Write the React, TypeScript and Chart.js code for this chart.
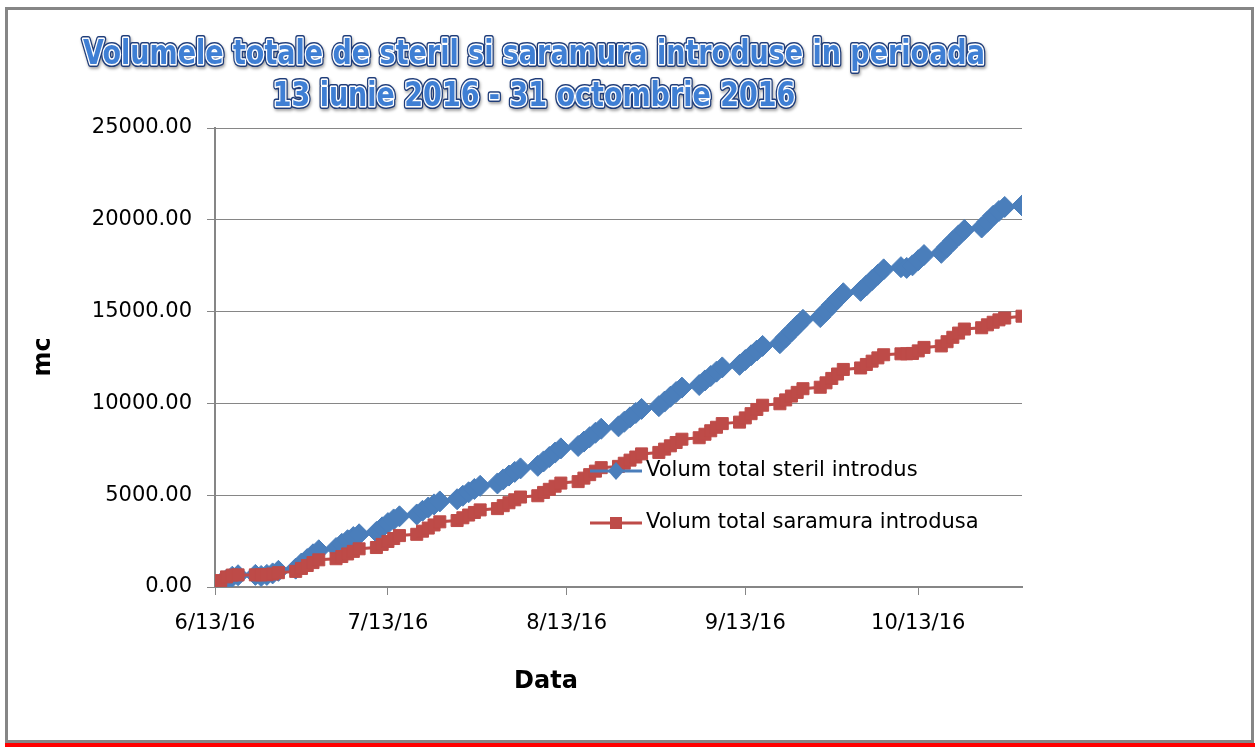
import React, { useEffect, useRef } from "react";
import { Chart, registerables } from "chart.js";

Chart.register(...registerables);

const YEAR = 2016;

const titleLines = [
  "Volumele totale de steril si saramura introduse in perioada",
  "13 iunie 2016 - 31 octombrie 2016",
];
const yAxisTitle = "mc";
const xAxisTitle = "Data";
const seriesNames = ["Volum total steril introdus", "Volum total saramura introdusa"];

// working days (month/day, 2016)
const dates = [
  "6/13", "6/14", "6/15", "6/16", "6/17",
  "6/20", "6/21", "6/22", "6/23", "6/24",
  "6/27", "6/28", "6/29", "6/30", "7/1",
  "7/4", "7/5", "7/6", "7/7", "7/8",
  "7/11", "7/12", "7/13", "7/14", "7/15",
  "7/18", "7/19", "7/20", "7/21", "7/22",
  "7/25", "7/26", "7/27", "7/28", "7/29",
  "8/1", "8/2", "8/3", "8/4", "8/5",
  "8/8", "8/9", "8/10", "8/11", "8/12",
  "8/15", "8/16", "8/17", "8/18", "8/19",
  "8/22", "8/23", "8/24", "8/25", "8/26",
  "8/29", "8/30", "8/31", "9/1", "9/2",
  "9/5", "9/6", "9/7", "9/8", "9/9",
  "9/12", "9/13", "9/14", "9/15", "9/16",
  "9/19", "9/20", "9/21", "9/22", "9/23",
  "9/26", "9/27", "9/28", "9/29", "9/30",
  "10/3", "10/4", "10/5", "10/6", "10/7",
  "10/10", "10/11", "10/12", "10/13", "10/14",
  "10/17", "10/18", "10/19", "10/20", "10/21",
  "10/24", "10/25", "10/26", "10/27", "10/28",
  "10/31",
];

const sterilValues = [
  0, 200, 400, 560, 640,
  660, 600, 660, 740, 880,
  1000, 1280, 1520, 1780, 2000,
  2120, 2350, 2550, 2720, 2870,
  3000, 3250, 3480, 3680, 3850,
  3950, 4150, 4330, 4500, 4660,
  4780, 4970, 5160, 5340, 5510,
  5640, 5860, 6070, 6270, 6460,
  6600, 6840, 7080, 7320, 7550,
  7680, 7920, 8160, 8400, 8620,
  8750, 9000, 9240, 9480, 9700,
  9850, 10100, 10360, 10620, 10860,
  11000, 11250, 11490, 11730, 11960,
  12100, 12360, 12620, 12880, 13130,
  13280, 13600, 13920, 14240, 14550,
  14700, 15030, 15360, 15690, 16000,
  16130, 16420, 16720, 17010, 17300,
  17420, 17380, 17520, 17800, 18080,
  18200, 18520, 18840, 19150, 19450,
  19580, 19900, 20220, 20480, 20700,
  20780,
];

const saramuraValues = [
  120, 350, 550, 650, 660,
  660, 660, 670, 710, 780,
  850, 1010, 1170, 1330, 1480,
  1540, 1660, 1800, 1940, 2080,
  2150, 2320, 2480, 2640, 2800,
  2870, 3040, 3210, 3380, 3550,
  3620, 3770, 3920, 4060, 4200,
  4270, 4430, 4590, 4750, 4900,
  4970, 5150, 5320, 5490, 5660,
  5740, 5930, 6120, 6310, 6500,
  6570, 6740, 6910, 7080, 7250,
  7330, 7510, 7690, 7870, 8050,
  8130, 8320, 8510, 8700, 8900,
  8980, 9210, 9440, 9670, 9900,
  9980, 10190, 10400, 10600, 10800,
  10880, 11120, 11360, 11600, 11850,
  11930, 12120, 12300, 12480, 12650,
  12700, 12700, 12720, 12860, 13050,
  13130, 13360, 13600, 13830, 14050,
  14120, 14280, 14420, 14550, 14650,
  14750,
];

const xTickLabels = ["6/13/16", "7/13/16", "8/13/16", "9/13/16", "10/13/16"];
const yTickValues = [0, 5000, 10000, 15000, 20000, 25000];
const xStart = "6/13";
const xEnd = "10/31";

const BLUE = "#4a7ebb";
const RED = "#be4b48";
const GRID = "#868686";
const FONT = "'DejaVu Sans', sans-serif";

function dayOffset(md: string): number {
  const [m, d] = md.split("/").map(Number);
  const [m0, d0] = xStart.split("/").map(Number);
  return Math.round((Date.UTC(YEAR, m - 1, d) - Date.UTC(YEAR, m0 - 1, d0)) / 86400000);
}

const xTickValues = xTickLabels.map((l) => dayOffset(l.split("/").slice(0, 2).join("/")));

const framePlugin = {
  id: "frame",
  beforeDraw(chart: any) {
    const ctx = chart.ctx;
    ctx.save();
    ctx.fillStyle = "#ffffff";
    ctx.fillRect(0, 0, chart.width, chart.height);
    ctx.fillStyle = GRID;
    ctx.fillRect(5, 7, 1249, 3);
    ctx.fillRect(5, 7, 3, 736);
    ctx.fillRect(1251, 7, 3, 736);
    ctx.fillRect(5, 740, 1249, 3);
    ctx.fillStyle = "#ff0000";
    ctx.fillRect(5, 743, 1250, 4);
    ctx.restore();
  },
};

function drawMarker(ctx: CanvasRenderingContext2D, style: string, x: number, y: number, color: string) {
  ctx.fillStyle = color;
  ctx.beginPath();
  if (style === "rectRot") {
    ctx.moveTo(x, y - 9);
    ctx.lineTo(x + 8, y);
    ctx.lineTo(x, y + 9);
    ctx.lineTo(x - 8, y);
    ctx.closePath();
  } else {
    const s = 6;
    ctx.rect(x - s, y - s, 2 * s, 2 * s);
  }
  ctx.fill();
}

const textPlugin = {
  id: "texts",
  afterDraw(chart: any) {
    const ctx: CanvasRenderingContext2D = chart.ctx;
    ctx.save();
    // title
    ctx.font = `bold 27px ${FONT}`;
    ctx.textAlign = "center";
    ctx.textBaseline = "middle";
    ctx.lineJoin = "round";
    const titleY = [55, 97];
    titleLines.forEach((line, i) => {
      ctx.save();
      ctx.translate(534, titleY[i]);
      ctx.scale(1, 1.22);
      ctx.save();
      ctx.shadowColor = "rgba(0,0,0,0.35)";
      ctx.shadowBlur = 3;
      ctx.shadowOffsetX = 1;
      ctx.shadowOffsetY = 2;
      ctx.strokeStyle = "#1f3d7a";
      ctx.lineWidth = 5;
      ctx.strokeText(line, 0, 0);
      ctx.restore();
      ctx.strokeStyle = "#ffffff";
      ctx.lineWidth = 2.5;
      ctx.strokeText(line, 0, 0);
      ctx.fillStyle = "#3f7fd4";
      ctx.fillText(line, 0, 0);
      ctx.restore();
    });

    // axis titles
    ctx.fillStyle = "#000000";
    ctx.font = `bold 24px ${FONT}`;
    ctx.textAlign = "center";
    ctx.textBaseline = "middle";
    ctx.fillText(xAxisTitle, 546, 682);
    ctx.save();
    ctx.translate(44, 357);
    ctx.rotate(-Math.PI / 2);
    ctx.fillText(yAxisTitle, 0, 0);
    ctx.restore();

    // legend
    const legendY = [471, 523];
    const styles = ["rectRot", "rect"];
    const colors = [BLUE, RED];
    ctx.font = `21px ${FONT}`;
    ctx.textAlign = "left";
    seriesNames.forEach((name, i) => {
      const y = legendY[i];
      ctx.strokeStyle = colors[i];
      ctx.lineWidth = 3;
      ctx.beginPath();
      ctx.moveTo(590, y);
      ctx.lineTo(642, y);
      ctx.stroke();
      drawMarker(ctx, styles[i], 616, y, colors[i]);
      ctx.fillStyle = "#000000";
      ctx.fillText(name, 646, y);
    });
    ctx.restore();
  },
};

export default function App() {
  const ref = useRef<HTMLCanvasElement | null>(null);

  useEffect(() => {
    if (!ref.current) return;
    const tickFont = { family: FONT, size: 21 };
    const chart = new Chart(ref.current, {
      type: "line",
      data: {
        datasets: [
          {
            label: seriesNames[0],
            data: dates.map((d, i) => ({ x: dayOffset(d), y: sterilValues[i] })),
            borderColor: BLUE,
            backgroundColor: BLUE,
            pointBackgroundColor: BLUE,
            pointBorderColor: BLUE,
            pointStyle: "rectRot",
            pointRadius: 10.5,
            pointBorderWidth: 1,
            borderWidth: 3,
            tension: 0,
            order: 1,
          },
          {
            label: seriesNames[1],
            data: dates.map((d, i) => ({ x: dayOffset(d), y: saramuraValues[i] })),
            borderColor: RED,
            backgroundColor: RED,
            pointBackgroundColor: RED,
            pointBorderColor: RED,
            pointStyle: "rect",
            pointRadius: 8.5,
            pointBorderWidth: 1,
            borderWidth: 3,
            tension: 0,
            order: 0,
          },
        ],
      },
      options: {
        animation: false,
        responsive: false,
        maintainAspectRatio: false,
        layout: { padding: { top: 128, right: 233, bottom: 0, left: 0 } },
        plugins: {
          legend: { display: false },
          title: { display: false },
          tooltip: { enabled: false },
        },
        scales: {
          x: {
            type: "linear",
            min: 0,
            max: dayOffset(xEnd),
            afterBuildTicks: (s: any) => {
              s.ticks = xTickValues.map((v) => ({ value: v }));
            },
            afterFit: (s: any) => {
              s.height = 160;
            },
            ticks: {
              autoSkip: false,
              maxRotation: 0,
              minRotation: 0,
              font: tickFont,
              color: "#000000",
              padding: 16,
              callback: (v: any) => {
                const idx = xTickValues.indexOf(Number(v));
                return idx >= 0 ? xTickLabels[idx] : "";
              },
            },
            grid: { drawOnChartArea: false, drawTicks: true, tickLength: 8, color: GRID, lineWidth: 1 },
            border: { color: GRID, width: 2 },
          },
          y: {
            min: 0,
            max: 25000,
            afterBuildTicks: (s: any) => {
              s.ticks = yTickValues.map((v) => ({ value: v }));
            },
            afterFit: (s: any) => {
              s.width = 215;
            },
            ticks: {
              font: tickFont,
              color: "#000000",
              padding: 15,
              callback: (v: any) => Number(v).toFixed(2),
            },
            grid: { color: GRID, lineWidth: 1, tickLength: 8, drawTicks: true },
            border: { color: GRID, width: 2 },
          },
        },
      },
      plugins: [framePlugin, textPlugin],
    } as any);
    return () => chart.destroy();
  }, []);

  return (
    <div style={{ position: "fixed", left: 0, top: 0, width: 1255, height: 747, background: "#fff" }}>
      <canvas ref={ref} width={1255} height={747} style={{ display: "block", width: 1255, height: 747 }} />
    </div>
  );
}
